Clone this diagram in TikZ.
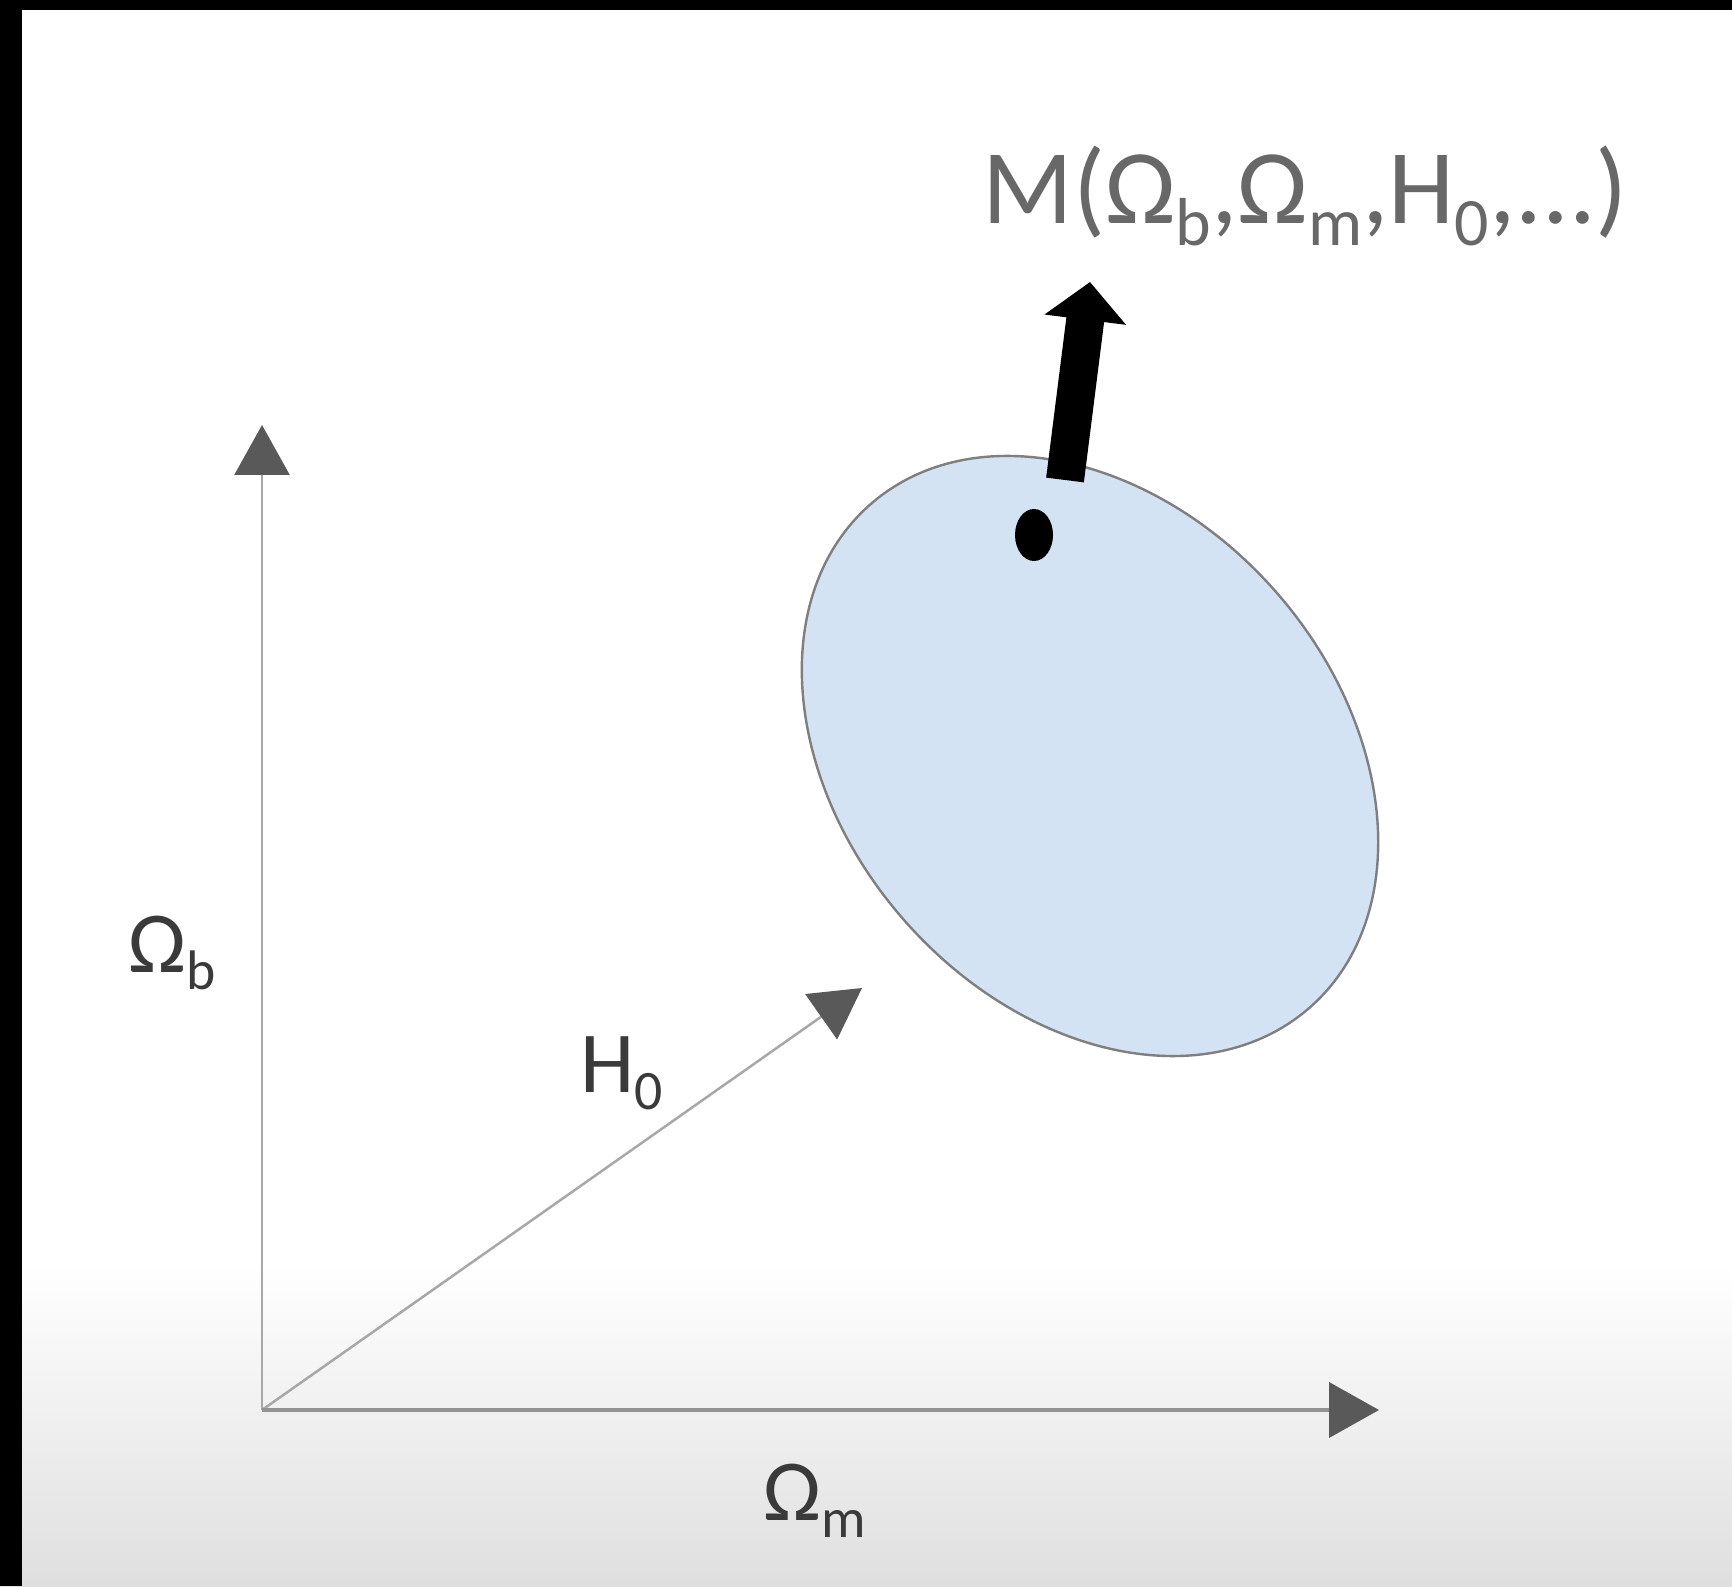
\documentclass[tikz,border=0pt]{standalone}
\usepackage{fontspec}
\setmainfont{Carlito}
\usepackage{graphicx}
\usetikzlibrary{arrows.meta,shapes.geometric}
\definecolor{axisgray}{HTML}{A8A8A8}
\definecolor{xaxisgray}{HTML}{939393}
\definecolor{headgray}{HTML}{595959}
\definecolor{fillblue}{HTML}{D3E3F4}
\definecolor{edgegray}{HTML}{7F7F7F}
\definecolor{lblgray}{HTML}{3A3A3A}
\definecolor{mgray}{HTML}{686868}
\definecolor{bottomgray}{HTML}{DFDFDF}
\newcommand\lowsub[1]{\raisebox{-0.2em}{\scalebox{0.64}{#1}}}
\begin{document}
\begin{tikzpicture}[x=0.5pt,y=0.5pt,
  grayhead/.style={-{Triangle[length=25pt,width=27.5pt,color=headgray]}},
  axisline/.style={draw=axisgray, line width=1.25pt, grayhead},
  xaxisline/.style={draw=xaxisgray, line width=2pt, grayhead},
  axlbl/.style={text=lblgray, font=\fontsize{43.5pt}{50pt}\selectfont, inner sep=0pt, anchor=base west},
  mlbl/.style={text=mgray, font=\fontsize{53pt}{60pt}\selectfont, inner sep=0pt, anchor=base west},
  region/.style={ellipse, draw=edgegray, line width=1.2pt, fill=fillblue, inner sep=0pt},
  bigarrow/.style={draw=black, line width=19pt, -{Triangle[length=19pt,width=40pt]}}
]
\useasboundingbox (0,0) rectangle (1732,1586);
% background
\fill[white] (0,0) rectangle (1732,1586);
\shade[top color=white, bottom color=bottomgray] (0,0) rectangle (1732,321);
\fill[black] (0,0) rectangle (22,1586);
\fill[black] (0,1576) rectangle (1732,1586);

% axes
\coordinate (O) at (262,176);
\coordinate (ytip) at (262,1161);
\coordinate (xtip) at (1379,176);
\coordinate (htip) at (862,598);
\draw[axisline] (O) -- (ytip);
\draw[axisline] (O) -- (htip);
\draw[xaxisline] (O) -- (xtip);

% region and point
\node[region, minimum width=334pt, minimum height=248pt, rotate=-49] (reg) at (1090,830) {};
\node[ellipse, fill=black, inner sep=0pt, minimum width=19pt, minimum height=26pt] (pt) at (1034,1051) {};

% thick arrow
\coordinate (mstart) at (1065,1106);
\coordinate (mtip) at (1090,1304);
\draw[bigarrow] (mstart) -- (mtip);

% labels
\node[axlbl] (lob) at (128,614) {Ω\lowsub{b}};
\node[axlbl] (lh) at (580,494) {H\lowsub{0}};
\node[axlbl] (lom) at (763,66) {Ω\lowsub{m}};
\node[mlbl] (lm) at (982,1362) {M(Ω\lowsub{b},Ω\lowsub{m},H\lowsub{0},...)};
\end{tikzpicture}
\end{document}
